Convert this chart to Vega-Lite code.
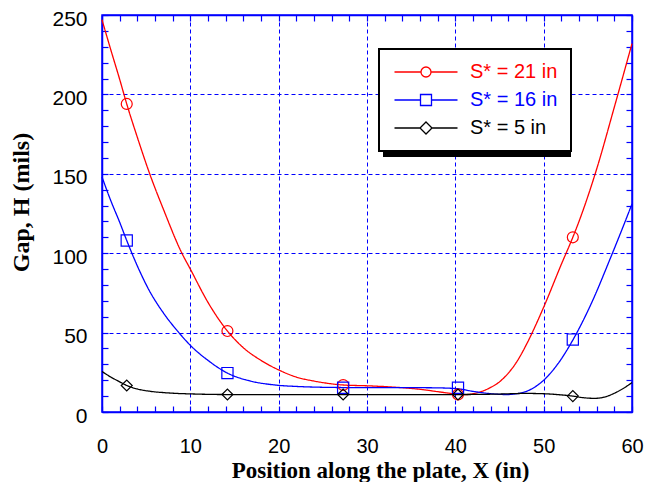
{
  "$schema": "https://vega.github.io/schema/vega-lite/v6.json",
  "width": 530,
  "height": 397,
  "autosize": "none",
  "padding": {"left": 102, "top": 15, "right": 14, "bottom": 70},
  "background": "white",
  "config": {"view": {"stroke": "#0000ff", "strokeWidth": 1.5}, "font": "Liberation Sans"},
  "datasets": {
    "curves": [
      {"series": "S* = 21 in", "x": 0, "h": 247},
      {"series": "S* = 21 in", "x": 1, "h": 228},
      {"series": "S* = 21 in", "x": 2, "h": 209.5},
      {"series": "S* = 21 in", "x": 2.8, "h": 194},
      {"series": "S* = 21 in", "x": 4, "h": 173},
      {"series": "S* = 21 in", "x": 5.4, "h": 150},
      {"series": "S* = 21 in", "x": 7, "h": 127},
      {"series": "S* = 21 in", "x": 9, "h": 100.5},
      {"series": "S* = 21 in", "x": 10, "h": 90},
      {"series": "S* = 21 in", "x": 12, "h": 69},
      {"series": "S* = 21 in", "x": 14.2, "h": 51},
      {"series": "S* = 21 in", "x": 16, "h": 40.5},
      {"series": "S* = 21 in", "x": 18, "h": 32.5},
      {"series": "S* = 21 in", "x": 20, "h": 26.5},
      {"series": "S* = 21 in", "x": 22, "h": 22},
      {"series": "S* = 21 in", "x": 24, "h": 19.5},
      {"series": "S* = 21 in", "x": 27.3, "h": 17},
      {"series": "S* = 21 in", "x": 30, "h": 16.5},
      {"series": "S* = 21 in", "x": 32, "h": 16},
      {"series": "S* = 21 in", "x": 34, "h": 15.3},
      {"series": "S* = 21 in", "x": 36, "h": 14.3},
      {"series": "S* = 21 in", "x": 38, "h": 12.8},
      {"series": "S* = 21 in", "x": 40.3, "h": 11.2},
      {"series": "S* = 21 in", "x": 41, "h": 10.9},
      {"series": "S* = 21 in", "x": 42, "h": 11.5},
      {"series": "S* = 21 in", "x": 43, "h": 13},
      {"series": "S* = 21 in", "x": 44, "h": 15.5},
      {"series": "S* = 21 in", "x": 45, "h": 19},
      {"series": "S* = 21 in", "x": 46, "h": 24.5},
      {"series": "S* = 21 in", "x": 47, "h": 32},
      {"series": "S* = 21 in", "x": 48, "h": 42},
      {"series": "S* = 21 in", "x": 50, "h": 66},
      {"series": "S* = 21 in", "x": 52, "h": 93},
      {"series": "S* = 21 in", "x": 53.3, "h": 110},
      {"series": "S* = 21 in", "x": 54, "h": 120},
      {"series": "S* = 21 in", "x": 56, "h": 153},
      {"series": "S* = 21 in", "x": 58, "h": 192},
      {"series": "S* = 21 in", "x": 60, "h": 232},
      {"series": "S* = 16 in", "x": 0, "h": 148},
      {"series": "S* = 16 in", "x": 1, "h": 133},
      {"series": "S* = 16 in", "x": 2, "h": 119.5},
      {"series": "S* = 16 in", "x": 2.8, "h": 108},
      {"series": "S* = 16 in", "x": 4, "h": 92},
      {"series": "S* = 16 in", "x": 5.3, "h": 77},
      {"series": "S* = 16 in", "x": 7, "h": 62},
      {"series": "S* = 16 in", "x": 8.7, "h": 50},
      {"series": "S* = 16 in", "x": 10, "h": 42},
      {"series": "S* = 16 in", "x": 12, "h": 32.5},
      {"series": "S* = 16 in", "x": 14.2, "h": 24.5},
      {"series": "S* = 16 in", "x": 16.8, "h": 19.5},
      {"series": "S* = 16 in", "x": 19.6, "h": 17},
      {"series": "S* = 16 in", "x": 22.4, "h": 16},
      {"series": "S* = 16 in", "x": 27.3, "h": 15.4},
      {"series": "S* = 16 in", "x": 32, "h": 15.3},
      {"series": "S* = 16 in", "x": 36, "h": 15.3},
      {"series": "S* = 16 in", "x": 38, "h": 15.2},
      {"series": "S* = 16 in", "x": 40.3, "h": 14.6},
      {"series": "S* = 16 in", "x": 42, "h": 13},
      {"series": "S* = 16 in", "x": 43.9, "h": 11.6},
      {"series": "S* = 16 in", "x": 45.8, "h": 11},
      {"series": "S* = 16 in", "x": 47.7, "h": 12.4},
      {"series": "S* = 16 in", "x": 49.6, "h": 18.1},
      {"series": "S* = 16 in", "x": 51.5, "h": 29.5},
      {"series": "S* = 16 in", "x": 53.3, "h": 45.3},
      {"series": "S* = 16 in", "x": 55.4, "h": 68.4},
      {"series": "S* = 16 in", "x": 57.6, "h": 97.5},
      {"series": "S* = 16 in", "x": 58.8, "h": 114},
      {"series": "S* = 16 in", "x": 60, "h": 131},
      {"series": "S* = 5 in", "x": 0, "h": 25.5},
      {"series": "S* = 5 in", "x": 1, "h": 22},
      {"series": "S* = 5 in", "x": 2, "h": 19},
      {"series": "S* = 5 in", "x": 2.8, "h": 16.7},
      {"series": "S* = 5 in", "x": 4, "h": 14.5},
      {"series": "S* = 5 in", "x": 5.5, "h": 13},
      {"series": "S* = 5 in", "x": 7, "h": 12.2},
      {"series": "S* = 5 in", "x": 8.5, "h": 11.7},
      {"series": "S* = 5 in", "x": 10, "h": 11.4},
      {"series": "S* = 5 in", "x": 14.2, "h": 11},
      {"series": "S* = 5 in", "x": 20, "h": 11},
      {"series": "S* = 5 in", "x": 27.3, "h": 11},
      {"series": "S* = 5 in", "x": 35, "h": 11},
      {"series": "S* = 5 in", "x": 40.3, "h": 11},
      {"series": "S* = 5 in", "x": 45, "h": 11.3},
      {"series": "S* = 5 in", "x": 48, "h": 11.7},
      {"series": "S* = 5 in", "x": 50, "h": 11.5},
      {"series": "S* = 5 in", "x": 51.5, "h": 11},
      {"series": "S* = 5 in", "x": 53.3, "h": 10},
      {"series": "S* = 5 in", "x": 54.5, "h": 9},
      {"series": "S* = 5 in", "x": 55.8, "h": 8.6},
      {"series": "S* = 5 in", "x": 57, "h": 9.6},
      {"series": "S* = 5 in", "x": 58, "h": 11.8},
      {"series": "S* = 5 in", "x": 59, "h": 14.8},
      {"series": "S* = 5 in", "x": 60, "h": 18.5}
    ],
    "markers": [
      {"series": "S* = 21 in", "x": 2.8, "h": 194},
      {"series": "S* = 21 in", "x": 14.2, "h": 51},
      {"series": "S* = 21 in", "x": 27.3, "h": 17},
      {"series": "S* = 21 in", "x": 40.3, "h": 11},
      {"series": "S* = 21 in", "x": 53.3, "h": 110},
      {"series": "S* = 16 in", "x": 2.8, "h": 108},
      {"series": "S* = 16 in", "x": 14.2, "h": 24.5},
      {"series": "S* = 16 in", "x": 27.3, "h": 15.3},
      {"series": "S* = 16 in", "x": 40.3, "h": 15.3},
      {"series": "S* = 16 in", "x": 53.3, "h": 45.6},
      {"series": "S* = 5 in", "x": 2.8, "h": 16.7},
      {"series": "S* = 5 in", "x": 14.2, "h": 11},
      {"series": "S* = 5 in", "x": 27.3, "h": 11},
      {"series": "S* = 5 in", "x": 40.3, "h": 11},
      {"series": "S* = 5 in", "x": 53.3, "h": 10}
    ]
  },
  "layer": [
    {
      "data": {"name": "curves"},
      "mark": {"type": "line", "interpolate": "monotone", "strokeWidth": 1.3},
      "encoding": {
        "x": {
          "field": "x", "type": "quantitative",
          "scale": {"domain": [0, 60], "nice": false},
          "axis": {
            "orient": "bottom",
            "values": [0,2,4,6,8,10,12,14,16,18,20,22,24,26,28,30,32,34,36,38,40,42,44,46,48,50,52,54,56,58,60],
            "labelExpr": "datum.value % 10 === 0 ? datum.label : ''",
            "grid": true, "gridColor": "#0000ff", "gridDash": [4, 3], "gridWidth": 1,
            "gridOpacity": {"condition": {"test": "datum.value % 10 === 0 && datum.value > 0 && datum.value < 60", "value": 1}, "value": 0},
            "tickColor": "#0000ff", "tickSize": -6, "tickWidth": 1.2,
            "domainColor": "#0000ff", "domainWidth": 1.5,
            "labelFontSize": 20, "labelColor": "black", "labelBaseline": "middle", "labelPadding": 40,
            "labelFlush": false, "labelOverlap": false,
            "title": "Position along the plate, X (in)",
            "titleFont": "Liberation Serif", "titleFontWeight": "bold", "titleFontSize": 23, "titleColor": "black",
            "titleX": 278, "titleY": 58, "titleBaseline": "middle", "titleAlign": "center"
          }
        },
        "y": {
          "field": "h", "type": "quantitative",
          "scale": {"domain": [0, 250], "nice": false},
          "axis": {
            "orient": "left",
            "values": [0,10,20,30,40,50,60,70,80,90,100,110,120,130,140,150,160,170,180,190,200,210,220,230,240,250],
            "labelExpr": "datum.value % 50 === 0 ? datum.label : ''",
            "grid": true, "gridColor": "#0000ff", "gridDash": [4, 3], "gridWidth": 1,
            "gridOpacity": {"condition": {"test": "datum.value % 50 === 0 && datum.value > 0 && datum.value < 250", "value": 1}, "value": 0},
            "tickColor": "#0000ff", "tickSize": -6, "tickWidth": 1.2,
            "domainColor": "#0000ff", "domainWidth": 1.5,
            "labelFontSize": 21, "labelColor": "black", "labelPadding": 21, "labelOffset": 4,
            "labelFlush": false, "labelOverlap": false,
            "title": "Gap, H (mils)",
            "titleFont": "Liberation Serif", "titleFontWeight": "bold", "titleFontSize": 24, "titleColor": "black",
            "titleX": -81, "titleY": 187, "titleAngle": 270, "titleBaseline": "middle", "titleAlign": "center"
          }
        },
        "color": {
          "field": "series", "type": "nominal",
          "scale": {"domain": ["S* = 21 in", "S* = 16 in", "S* = 5 in"], "range": ["#ff0000", "#0000ff", "#000000"]},
          "legend": {
            "orient": "none", "legendX": 277, "legendY": 34, "title": null, "zindex": 3,
            "fillColor": "white", "strokeColor": "black",
            "padding": 13, "rowPadding": 8, "symbolOffset": 24, "labelOffset": 34,
            "symbolSize": 100, "symbolStrokeWidth": 1.3,
            "labelFontSize": 20, "labelFont": "Liberation Sans", "labelLimit": 300,
            "encode": {
              "legend": {"update": {"strokeWidth": {"value": 2}}},
              "symbols": {"update": {
                "shape": {"signal": "datum.value === 'S* = 21 in' ? 'M-6.3,0L-1,0M1,0L6.3,0M1,0A1,1,0,1,1,-1,0A1,1,0,1,1,1,0' : datum.value === 'S* = 16 in' ? 'M-6.3,0L-1.1,0M1.1,0L6.3,0M-1.1,-1.1L1.1,-1.1L1.1,1.1L-1.1,1.1Z' : 'M-6.3,0L-1.2,0M1.2,0L6.3,0M0,-1.2L1.2,0L0,1.2L-1.2,0Z'"},
                "fill": {"value": "transparent"},
                "strokeWidth": {"value": 1.3}
              }},
              "labels": {"update": {"fill": {"signal": "scale('color', datum.value)"}}}
            }
          }
        },
        "strokeDash": {
          "field": "series", "type": "nominal",
          "scale": {"domain": ["S* = 5 in", "S* = 16 in", "S* = 21 in"], "range": [[1, 0], [1, 0], [1, 0]]},
          "legend": {
            "orient": "none", "legendX": 282, "legendY": 39, "title": null, "zindex": 2,
            "fillColor": "black", "strokeColor": "black",
            "padding": 13, "rowPadding": 8, "symbolOffset": 24, "labelOffset": 115.7,
            "symbolSize": 100, "symbolStrokeWidth": 1.3, "symbolOpacity": 0,
            "labelFontSize": 20, "labelFont": "Liberation Sans", "labelLimit": 300, "labelColor": "black",
            "labelExpr": "'\u00a0'",
            "encode": {
              "legend": {"update": {"strokeWidth": {"value": 2}}},
              "symbols": {"update": {"opacity": {"value": 0}}}
            }
          }
        }
      }
    },
    {
      "data": {"name": "markers"},
      "transform": [{"filter": "datum.series === 'S* = 21 in'"}],
      "mark": {"type": "point", "shape": "circle", "filled": false, "strokeWidth": 1.2, "size": 120, "opacity": 1},
      "encoding": {
        "x": {
          "field": "x", "type": "quantitative",
          "scale": {"domain": [0, 60], "nice": false},
          "axis": {
            "orient": "top",
            "values": [0,2,4,6,8,10,12,14,16,18,20,22,24,26,28,30,32,34,36,38,40,42,44,46,48,50,52,54,56,58,60],
            "labels": false, "grid": false, "title": null,
            "tickColor": "#0000ff", "tickSize": -6, "tickWidth": 1.2,
            "domainColor": "#0000ff", "domainWidth": 1.5
          }
        },
        "y": {
          "field": "h", "type": "quantitative",
          "scale": {"domain": [0, 250], "nice": false},
          "axis": {
            "orient": "right",
            "values": [0,10,20,30,40,50,60,70,80,90,100,110,120,130,140,150,160,170,180,190,200,210,220,230,240,250],
            "labels": false, "grid": false, "title": null,
            "tickColor": "#0000ff", "tickSize": -6, "tickWidth": 1.2,
            "domainColor": "#0000ff", "domainWidth": 1.5
          }
        },
        "color": {"field": "series", "type": "nominal"}
      }
    },
    {
      "data": {"name": "markers"},
      "transform": [{"filter": "datum.series === 'S* = 16 in'"}],
      "mark": {"type": "point", "shape": "square", "filled": false, "strokeWidth": 1.2, "size": 125, "opacity": 1},
      "encoding": {
        "x": {"field": "x", "type": "quantitative", "axis": null},
        "y": {"field": "h", "type": "quantitative", "axis": null},
        "color": {"field": "series", "type": "nominal"}
      }
    },
    {
      "data": {"name": "markers"},
      "transform": [{"filter": "datum.series === 'S* = 5 in'"}],
      "mark": {"type": "point", "shape": "diamond", "filled": false, "strokeWidth": 1.2, "size": 120, "opacity": 1},
      "encoding": {
        "x": {"field": "x", "type": "quantitative", "axis": null},
        "y": {"field": "h", "type": "quantitative", "axis": null},
        "color": {"field": "series", "type": "nominal"}
      }
    }
  ],
  "resolve": {"axis": {"x": "independent", "y": "independent"}}
}
